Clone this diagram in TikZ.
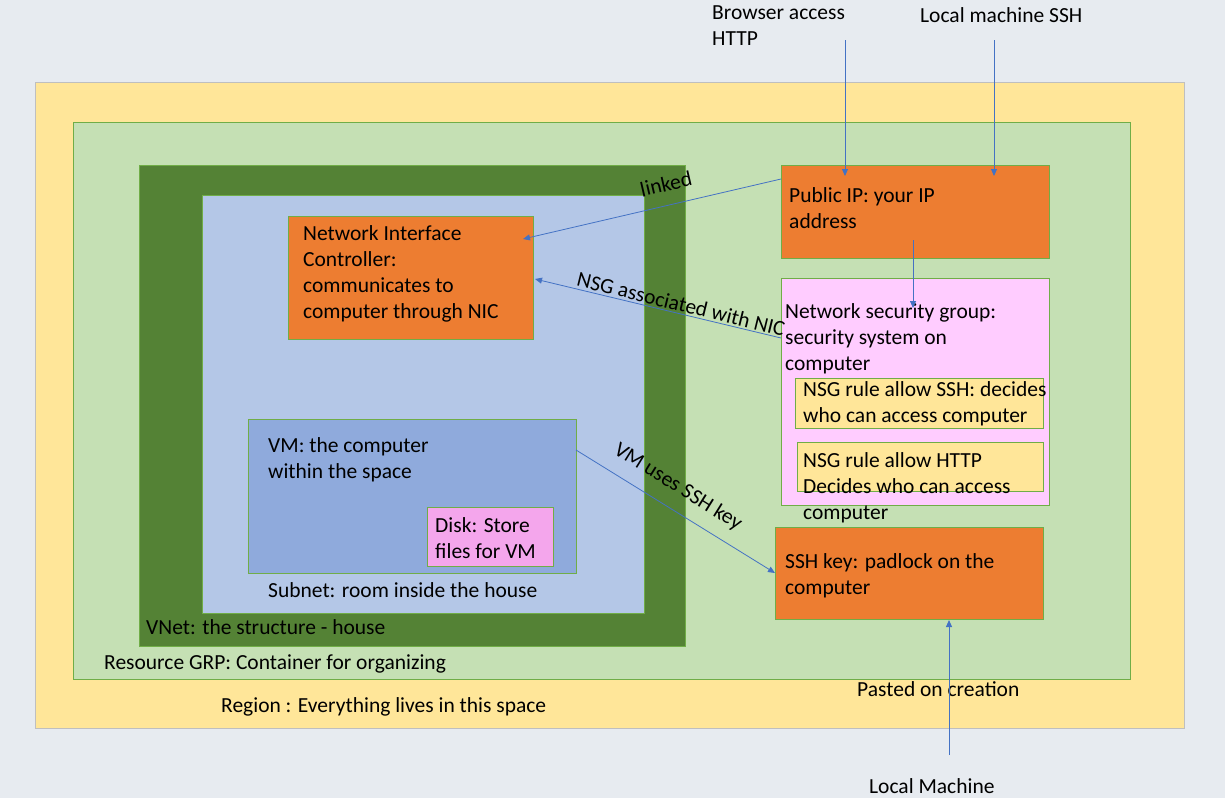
\documentclass[tikz,border=0pt]{standalone}
\usepackage{fontspec}
\setmainfont{Carlito}
\usetikzlibrary{arrows.meta}
\definecolor{bg}{HTML}{E7EBF0}
\definecolor{regionfill}{HTML}{FFE699}
\definecolor{rgfill}{HTML}{C5E0B4}
\definecolor{vnetfill}{HTML}{548235}
\definecolor{subnetfill}{HTML}{B4C7E7}
\definecolor{vmfill}{HTML}{8FAADC}
\definecolor{orangefill}{HTML}{ED7D31}
\definecolor{nsgfill}{HTML}{FFCCFF}
\definecolor{diskfill}{HTML}{F4A6EC}
\definecolor{edgegreen}{HTML}{70AD47}
\definecolor{arrowblue}{HTML}{4472C4}
\definecolor{regionborder}{HTML}{BFBFBF}
\begin{document}
\begin{tikzpicture}[x=1pt,y=-1pt,
  box/.style={draw=edgegreen, line width=1pt, anchor=north west, inner sep=0pt, outer sep=0pt},
  txt/.style={anchor=north west, inner sep=0pt, align=left, font=\fontsize{21.5}{26}\selectfont, execute at begin node={\rule{0pt}{19pt}}},
  lbl/.style={inner sep=0pt, font=\fontsize{21.5}{26}\selectfont},
  conn/.style={draw=arrowblue, line width=0.8pt, -{Triangle[length=7pt,width=6pt]}},
  ]
\fill[bg] (0,0) rectangle (1225,798);
\useasboundingbox (0,0) rectangle (1225,798);

% containers
\node[box, draw=regionborder, fill=regionfill, minimum width=1149pt, minimum height=646pt] (region) at (35,82) {};
\node[box, fill=rgfill, minimum width=1057pt, minimum height=557pt] (rg) at (73,122) {};
\node[box, fill=vnetfill, minimum width=546pt, minimum height=481pt] (vnet) at (139,165) {};
\node[box, fill=subnetfill, minimum width=442pt, minimum height=418pt] (subnet) at (202,195) {};
\node[box, fill=orangefill, minimum width=245pt, minimum height=123pt] (nic) at (288,216) {};
\node[box, fill=vmfill, minimum width=328pt, minimum height=154pt] (vm) at (248,419) {};
\node[box, fill=diskfill, minimum width=126pt, minimum height=59pt] (disk) at (427,507) {};
\node[box, fill=orangefill, minimum width=268pt, minimum height=93pt] (pubip) at (781,165) {};
\node[box, fill=nsgfill, minimum width=268pt, minimum height=227pt] (nsg) at (781,278) {};
\node[box, fill=regionfill, minimum width=248pt, minimum height=50pt] (rulessh) at (795,378) {};
\node[box, fill=regionfill, minimum width=246pt, minimum height=49pt] (rulehttp) at (797,442) {};
\node[box, fill=orangefill, minimum width=268pt, minimum height=92pt] (sshkey) at (775,527) {};

% texts
\node[txt] (nictxt) at (303,225) {Network Interface\\Controller:\\communicates to\\computer through NIC};
\node[txt] (pubiptxt) at (789,187) {Public IP: your IP\\address};
\node[txt] (nsgtxt) at (785,303) {Network security group:\\security system on\\computer};
\node[txt] (rulesshtxt) at (803,381) {NSG rule allow SSH: decides\\who can access computer};
\node[txt] (rulehttptxt) at (803,452) {NSG rule allow HTTP\\Decides who can access\\computer};
\node[txt] (vmtxt) at (268,437) {VM: the computer\\within the space};
\node[txt] (disktxt) at (435,517) {Disk: Store\\files for VM};
\node[txt] (sshkeytxt) at (785,553) {SSH key: padlock on the\\computer};
\node[txt] (browsertxt) at (712,6) {Browser access\\HTTP};
\node[txt] (localsshtxt) at (920,3) {Local machine SSH};
\node[txt] (regiontxt) at (221,693) {Region : Everything lives in this space};
\node[txt] (rgtxt) at (104,650) {Resource GRP: Container for organizing};
\node[txt] (vnettxt) at (146,615) {VNet: the structure - house};
\node[txt] (subnettxt) at (268,578) {Subnet: room inside the house};
\node[txt] (pastedtxt) at (857,677) {Pasted on creation};
\node[txt] (localtxt) at (869,774) {Local Machine};

% connector end points
\coordinate (browserstart) at (845,40);
\coordinate (browserend) at (845,176);
\coordinate (localsshstart) at (994,40);
\coordinate (localsshend) at (994,176);
\coordinate (ipnsgstart) at (913,240);
\coordinate (ipnsgend) at (913,308);
\coordinate (linkstart) at (781,179);
\coordinate (linkend) at (523,239);
\coordinate (assocstart) at (781,338);
\coordinate (assocend) at (535,279);
\coordinate (usesstart) at (576,450);
\coordinate (usesend) at (775,573);
\coordinate (localstart) at (949,755);
\coordinate (localend) at (949,620);

% connectors
\draw[conn] (browserstart) -- (browserend);
\draw[conn] (localsshstart) -- (localsshend);
\draw[conn] (ipnsgstart) -- (ipnsgend);
\draw[conn] (linkstart) -- (linkend);
\draw[conn] (assocstart) -- (assocend);
\draw[conn] (usesstart) -- (usesend);
\draw[conn] (localstart) -- (localend);

% connector labels
\node[lbl, rotate=13] (linkedlbl) at (666,184) {linked};
\node[lbl, rotate=-13.8] (assoclbl) at (681,304) {NSG associated with NIC};
\node[lbl, rotate=-32] (useslbl) at (678,487) {VM uses SSH key};
\end{tikzpicture}
\end{document}
